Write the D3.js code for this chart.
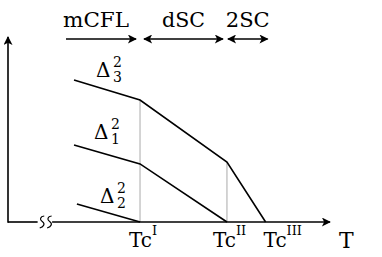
<!DOCTYPE html>
<meta charset="utf-8">
<style>
  body { margin: 0; background: #fff; }
  text { font-family: "DejaVu Serif", serif; fill: #000; }
  .gap { fill: none; stroke: #000; stroke-width: 1.6px; }
  .guide { stroke: #aaa; stroke-width: 1px; }
  .axis { stroke: #000; stroke-width: 1.6px; fill: none; }
</style>
<body>
<svg width="382" height="257"></svg>
<script src="https://d3js.org/d3.v7.min.js"></script>
<script>

  // critical temperatures Tc^I, Tc^II, Tc^III (arbitrary units)
  var tcValues = [4.1, 6.8, 8.0];
  var tcLabels = ["I", "II", "III"];

  // gap^2 curves: [T, value] points
  var delta3 = [[2.05, 7.68], [4.1, 6.59], [6.8, 3.24], [8.0, 0]];
  var delta1 = [[2.05, 4.16], [4.1, 3.14], [6.8, 0]];
  var delta2 = [[2.14, 0.97], [4.1, 0]];
  var gapNames = ["3", "1", "2"];

  // phases along the top
  var phaseNames = ["mCFL", "dSC", "2SC"];

  var svg = d3.select("svg");
  var x = d3.scaleLinear().domain([0, 10]).range([8, 330]);
  var y = d3.scaleLinear().domain([0, 10]).range([222, 37]);

  function label(px, py, size, str) {
    return svg.append("text")
        .attr("x", px).attr("y", py)
        .style("font-size", size + "px")
        .text(str);
  }

  svg.append("defs").append("marker")
      .attr("id", "head")
      .attr("viewBox", "0 0 10 10")
      .attr("refX", 9).attr("refY", 5)
      .attr("markerWidth", 10).attr("markerHeight", 9)
      .attr("markerUnits", "userSpaceOnUse")
      .attr("orient", "auto-start-reverse")
    .append("path")
      .attr("d", "M0,0 L10,5 L0,10 L2.5,5 Z")
      .attr("fill", "#000");

  // grey guides at Tc^I and Tc^II
  [[tcValues[0], delta3[1][1]], [tcValues[1], delta3[2][1]]].forEach(function (g) {
    svg.append("line").attr("class", "guide")
        .attr("x1", x(g[0])).attr("x2", x(g[0]))
        .attr("y1", y(g[1])).attr("y2", y(0));
  });

  // axes with a break near the origin
  var axisY = y(0);
  svg.append("line").attr("class", "axis")
      .attr("x1", x(0)).attr("x2", x(0.92))
      .attr("y1", axisY).attr("y2", axisY);
  svg.append("line").attr("class", "axis")
      .attr("x1", x(0)).attr("x2", x(0))
      .attr("y1", axisY + 0.8).attr("y2", y(10))
      .attr("marker-end", "url(#head)");
  svg.append("line").attr("class", "axis")
      .attr("x1", x(1.37)).attr("x2", x(10))
      .attr("y1", axisY).attr("y2", axisY)
      .attr("marker-end", "url(#head)");

  [0.97, 1.2].forEach(function (t) {
    var cx = x(t) + 2;
    svg.append("path").attr("class", "axis").style("stroke-width", "1.2px")
        .attr("d", "M" + (cx + 3) + "," + (axisY - 6) +
                   " c-4,0.5 -5,3.5 -2,5.5 c3,2 2,5 -2.5,6.5");
  });

  // gap curves
  var line = d3.line().x(function (d) { return x(d[0]); }).y(function (d) { return y(d[1]); });
  var curves = [delta3, delta1, delta2];
  curves.forEach(function (d) {
    svg.append("path").attr("class", "gap").attr("d", line(d));
  });

  // Delta^2 labels, placed relative to each curve's start
  var labelOffsets = [[22, -3], [20, -6], [23, -1]];
  curves.forEach(function (d, i) {
    var lx = x(d[0][0]) + labelOffsets[i][0], ly = y(d[0][1]) + labelOffsets[i][1];
    label(lx, ly, 20, "\u0394");
    label(lx + 17, ly - 10, 14, "2");
    label(lx + 17, ly + 5, 14, gapNames[i]);
  });

  // Tc labels under the axis (one text each, numeral as superscript)
  var tcShift = [-11, -14, -2];
  tcValues.forEach(function (t, i) {
    var g = label(x(t) + tcShift[i], 247, 20, null);
    g.append("tspan").text("Tc");
    g.append("tspan").attr("dy", -12).style("font-size", "13px").text(tcLabels[i]);
  });
  label(339, 248, 22, "T");

  // phase labels with span arrows
  var gapPx = 4;
  var phaseWidths = [66, 43, 44];
  var spans = [[x(delta3[0][0]) - 8, x(tcValues[0]) - gapPx],
               [x(tcValues[0]) + gapPx, x(tcValues[1]) - gapPx],
               [x(tcValues[1]) + 1, x(tcValues[2]) + 2]];
  spans.forEach(function (s, i) {
    svg.append("line").attr("class", "axis")
        .attr("x1", s[0]).attr("x2", s[1])
        .attr("y1", 39).attr("y2", 39)
        .attr("marker-end", "url(#head)")
        .attr("marker-start", i > 0 ? "url(#head)" : null);
    label((s[0] + s[1]) / 2 + (i === 0 ? -5 : 0), 27, 21, phaseNames[i])
        .attr("text-anchor", "middle")
        .attr("textLength", phaseWidths[i])
        .attr("lengthAdjust", "spacingAndGlyphs");
  });

</script>
</body>
